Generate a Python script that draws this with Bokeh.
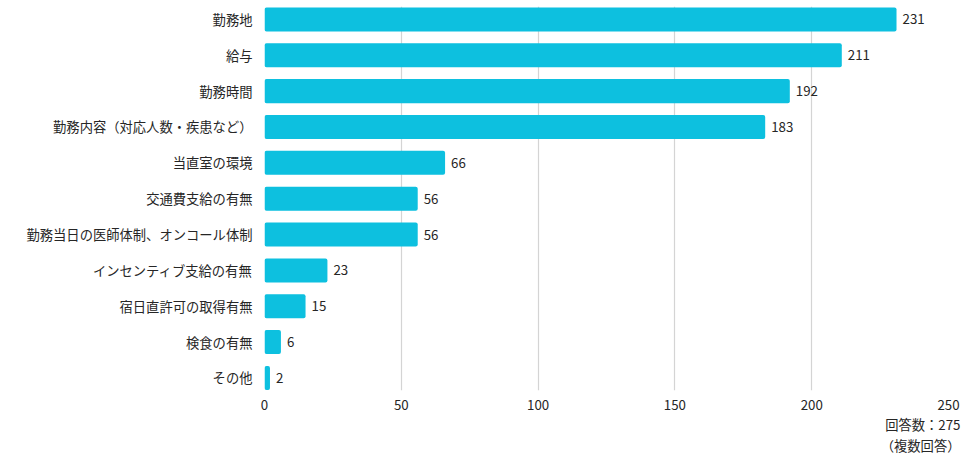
from bokeh.plotting import figure
from bokeh.models import Range1d, FixedTicker, ColumnDataSource, LabelSet, Title
from bokeh.core.properties import value
from bokeh.embed import file_html
from bokeh.resources import INLINE

# Survey answers (multiple answers allowed, n = 275)
categories = [
    "勤務地",
    "給与",
    "勤務時間",
    "勤務内容（対応人数・疾患など）",
    "当直室の環境",
    "交通費支給の有無",
    "勤務当日の医師体制、オンコール体制",
    "インセンティブ支給の有無",
    "宿日直許可の取得有無",
    "検食の有無",
    "その他",
]
counts = [231, 211, 192, 183, 66, 56, 56, 23, 15, 6, 2]
x_ticks = [0, 50, 100, 150, 200, 250]
note_lines = ["回答数：275", "（複数回答）"]

FONT = "Noto Sans CJK JP"
FONT_SIZE = "13.3px"
BAR_COLOR = "#0dc0df"
TEXT_COLOR = "#262626"
GRID_COLOR = "#d4d4d4"

positions = list(range(len(categories)))
source = ColumnDataSource(data=dict(
    y=positions,
    count=counts,
    label=[str(c) for c in counts],
))

p = figure(
    width=976, height=459,
    output_backend="svg", toolbar_location=None,
    x_range=Range1d(0, 250),
    y_range=Range1d(10.35, -0.36),
    min_border_left=264, min_border_right=28,
    min_border_top=6, min_border_bottom=69,
    outline_line_color=None,
)

p.hbar(y="y", right="count", left=0, height=0.67, source=source,
       fill_color=BAR_COLOR, line_color=None, border_radius=2)

p.add_layout(LabelSet(
    x="count", y="y", text="label", source=source,
    x_offset=6, text_align="left", text_baseline="middle",
    text_font=value(FONT), text_font_size=FONT_SIZE, text_color=TEXT_COLOR,
))

# x axis: labels only, grid lines act as guides
p.xaxis.ticker = FixedTicker(ticks=x_ticks)
p.xaxis.axis_line_color = None
p.xaxis.major_tick_line_color = None
p.xaxis.minor_tick_line_color = None
p.xaxis.major_label_text_font = FONT
p.xaxis.major_label_text_font_size = FONT_SIZE
p.xaxis.major_label_text_color = TEXT_COLOR
p.xaxis.major_label_standoff = 3

p.xgrid.ticker = FixedTicker(ticks=x_ticks)
p.xgrid.grid_line_color = GRID_COLOR
p.xgrid.grid_line_width = 1.2
p.ygrid.grid_line_color = None

# y axis: category names
p.yaxis.ticker = FixedTicker(ticks=positions)
p.yaxis.major_label_overrides = {i: c for i, c in enumerate(categories)}
p.yaxis.axis_line_color = None
p.yaxis.major_tick_line_color = None
p.yaxis.minor_tick_line_color = None
p.yaxis.major_label_text_font = FONT
p.yaxis.major_label_text_font_size = FONT_SIZE
p.yaxis.major_label_text_color = TEXT_COLOR
p.yaxis.major_label_standoff = 6

# response count note under the axis, right-aligned
for line in note_lines:
    p.add_layout(Title(
        text=line, align="right", offset=-12,
        text_font=FONT, text_font_size=FONT_SIZE, text_font_style="normal",
        text_color=TEXT_COLOR, standoff=0,
    ), "below")

open("out.html", "w").write(file_html(p, INLINE))
